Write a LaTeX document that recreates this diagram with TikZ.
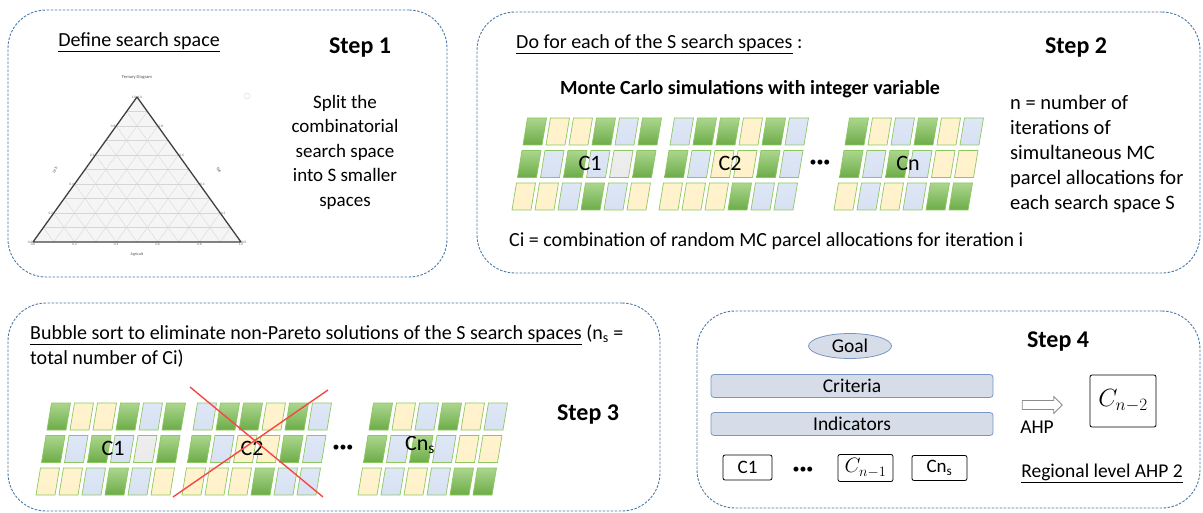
\documentclass[tikz,border=0pt]{standalone}
\usepackage{fontspec}
\setmainfont{Carlito}
\definecolor{frameblue}{RGB}{75,120,168}
\definecolor{crossred}{RGB}{248,70,70}
\definecolor{ahpfill}{RGB}{214,221,232}
\definecolor{ahpline}{RGB}{120,150,195}
\definecolor{parcelline}{RGB}{140,200,95}
\definecolor{tG}{RGB}{172,214,142}
\definecolor{bG}{RGB}{108,172,72}
\definecolor{tY}{RGB}{255,243,206}
\definecolor{bY}{RGB}{255,241,202}
\definecolor{tB}{RGB}{222,231,246}
\definecolor{bB}{RGB}{216,225,242}
\definecolor{tW}{RGB}{238,238,238}
\definecolor{bW}{RGB}{234,234,234}
\usepackage{tikz}
\usetikzlibrary{shapes,arrows,positioning,calc,fit,backgrounds}

\tikzset{
  stepbox/.style={draw=frameblue, dash pattern=on 2.5pt off 1.5pt, line width=0.9pt, rounded corners=38pt},
  body/.style={font=\fontsize{20}{25}\selectfont, inner sep=0pt},
  steptitle/.style={font=\fontsize{24}{28}\selectfont\bfseries, inner sep=0pt},
  clabel/.style={font=\fontsize{22}{24}\selectfont, inner sep=0pt},
  ahpbar/.style={draw=ahpline, fill=ahpfill, rounded corners=3pt, line width=0.8pt,
    minimum width=282, minimum height=23, inner sep=0pt, font=\fontsize{19.5}{21}\selectfont},
  cbox/.style={draw, line width=0.8pt, rounded corners=2pt, inner sep=0pt, font=\fontsize{19}{21}\selectfont},
  parcel/.style={draw=parcelline, line width=0.7pt},
  tgrid/.style={draw=black!16, line width=0.35pt},
  tick/.style={font=\fontsize{3.5}{4}\selectfont, text=black!60, inner sep=0.6pt},
  dots/.style={font=\fontsize{14}{16}\selectfont, inner sep=0pt}
}

% one row of parcels: x of first lower corner, y of top, colours
\newcommand{\parcelrow}[3]{%
  \foreach \c [count=\i from 0] in {#3}
    \path[parcel, top color=t\c, bottom color=b\c]
      (#1+\i*23, #2+27) -- ++(4.5,-27) -- ++(19,0) -- ++(-4.5,27) -- cycle;
}
\newcommand{\parcelgroup}[5]{%
  \parcelrow{#1}{#2}{#3}
  \parcelrow{#1-5.5}{#2+32.5}{#4}
  \parcelrow{#1-11}{#2+65}{#5}
}

\begin{document}
\begin{tikzpicture}[x=1pt, y=-1pt]
    \useasboundingbox (0,0) rectangle (1203,513);

    % Frames
    \node[stepbox, minimum width=439, minimum height=267] (frame1) at (227.5,143.5) {};
    \node[stepbox, minimum width=723, minimum height=261] (frame2) at (838.5,142.5) {};
    \node[stepbox, minimum width=652, minimum height=208] (frame3) at (334,407) {};
    \node[stepbox, minimum width=503, minimum height=197] (frame4) at (948.5,409.5) {};

    % Step 1
    \node[body] (defspace) at (139,42) {\underline{Define search space}};
    \node[steptitle] (step1) at (360,48) {Step 1};
    \node[body, font=\fontsize{19}{24.5}\selectfont, align=center] (splittxt) at (345,152) {Split the\\combinatorial\\search space\\into S smaller\\spaces};

    % Ternary diagram
    \coordinate (tA) at (33,242);
    \coordinate (tB) at (241,242);
    \coordinate (tT) at (137,97);
    \fill[black!4] (tA) -- (tB) -- (tT) -- cycle;
    \foreach \k in {1,...,9} {
        \draw[tgrid] ($(tA)!\k/10!(tT)$) -- ($(tB)!\k/10!(tT)$);
        \draw[tgrid] ($(tA)!\k/10!(tB)$) -- ($(tT)!\k/10!(tB)$);
        \draw[tgrid] ($(tB)!\k/10!(tA)$) -- ($(tT)!\k/10!(tA)$);
    }
    \draw[line width=1.3pt, black!75, line join=round] (tA) -- (tB) -- (tT) -- cycle;
    \foreach \v [count=\k from 0] in {0.0,0.2,0.4,0.6,0.8,1.0} {
        \node[tick, below] at ($(tA)!\k/5!(tB)$) {\v};
        \node[tick, left] at ($(tA)!\k/5!(tT)$) {\v};
        \node[tick, right] at ($(tB)!\k/5!(tT)$) {\v};
    }
    \node[font=\fontsize{4.5}{5}\selectfont, text=black!70] (ttitle) at (137,77) {Ternary Diagram};
    \node[font=\fontsize{4}{5}\selectfont, text=black!70, rotate=60] (tleft) at (55,170) {Urb};
    \node[font=\fontsize{4}{5}\selectfont, text=black!70, rotate=-60] (tright) at (219,170) {Nat};
    \node[font=\fontsize{4}{5}\selectfont, text=black!70] (tbottom) at (137,254) {Agricult};
    \draw[black!12, line width=0.6pt] (247,96) circle (3);

    % Step 2
    \node[body, anchor=west] (dofor) at (516,44) {\underline{Do for each of the S search spaces} :};
    \node[steptitle] (step2) at (1076,48) {Step 2};
    \node[body, font=\fontsize{20}{25}\selectfont\bfseries] (mctitle) at (750,89) {Monte Carlo simulations with integer variable};
    \parcelgroup{523}{118}{G,Y,Y,G,B,G}{G,B,G,B,W,G}{Y,Y,B,G,B,Y}
    \parcelgroup{670}{118}{B,G,G,Y,G,B}{G,B,Y,Y,G,B}{Y,Y,Y,G,B,B}
    \parcelgroup{845}{118}{G,Y,B,G,Y,B}{G,B,G,B,Y,Y}{Y,B,Y,B,G,G}
    \node[clabel] (c1top) at (590,163) {C1};
    \node[clabel] (c2top) at (730,163) {C2};
    \node[clabel] (cntop) at (908,163) {Cn};
    \node[dots] (dotstop) at (820,163) {\textbullet\textbullet\textbullet};
    \node[body, font=\fontsize{20.5}{25}\selectfont, anchor=west, align=left] (ntxt) at (1010,154) {n = number of\\iterations of\\simultaneous MC\\parcel allocations for\\each search space S};
    \node[body, anchor=west] (citxt) at (509,241) {Ci = combination of random MC parcel allocations for iteration i};

    % Step 3
    \node[body, anchor=north west, align=left] (bubble) at (30,325) {\underline{Bubble sort to eliminate non-Pareto solutions of the S search spaces} (n\textsubscript{s} =\\total number of Ci)};
    \node[steptitle] (step3) at (588,415) {Step 3};
    \parcelgroup{47}{403}{G,Y,Y,G,B,G}{G,B,G,B,W,G}{Y,Y,B,G,B,Y}
    \parcelgroup{193}{403}{B,G,G,Y,G,B}{G,B,Y,Y,G,B}{Y,Y,Y,G,B,B}
    \parcelgroup{369}{403}{G,Y,B,G,Y,B}{G,B,G,B,Y,Y}{Y,B,Y,B,G,G}
    \node[clabel] (c1mid) at (113,448) {C1};
    \node[clabel] (c2mid) at (252,448) {C2};
    \node[clabel] (cnmid) at (420,445) {Cn\textsubscript{s}};
    \node[dots] (dotsmid) at (343,448) {\textbullet\textbullet\textbullet};
    % discarded combination
    \coordinate (xa) at (190,387);
    \coordinate (xb) at (323,497);
    \coordinate (xc) at (328,390);
    \coordinate (xd) at (173,497);
    \draw[crossred, line width=1.4pt] (xa) -- (xb);
    \draw[crossred, line width=1.4pt] (xc) -- (xd);

    % Step 4
    \node[steptitle] (step4) at (1058,342) {Step 4};
    \node[ellipse, draw=ahpline, fill=ahpfill, line width=0.8pt, minimum width=83, minimum height=25, inner sep=0pt, font=\fontsize{19.5}{21}\selectfont] (goal) at (850,346) {Goal};
    \node[ahpbar] (criteria) at (852,386) {Criteria};
    \node[ahpbar] (indicators) at (852,424) {Indicators};
    \node[cbox, minimum width=49, minimum height=25] (cone) at (747.5,467.5) {C1};
    \node[dots] (dotsbot) at (803,470) {\textbullet\textbullet\textbullet};
    \node[cbox, minimum width=55, minimum height=27, font=\fontsize{22}{24}\selectfont] (cnm1) at (865.5,468) {$C_{n-1}$};
    \node[cbox, minimum width=55, minimum height=25] (cns) at (939.5,468) {Cn\textsubscript{s}};
    \node[body, font=\fontsize{19.5}{21}\selectfont] (regional) at (1102,473) {\underline{Regional level AHP 2}};
    \node[single arrow, draw=black!45, fill=white, line width=0.8pt, minimum height=40, minimum width=17,
        single arrow head extend=4pt, inner sep=4pt] (ahparrow) at (1040,405) {};
    \node[body, font=\fontsize{19.5}{21}\selectfont] (ahp) at (1037,427) {AHP};
    \node[cbox, minimum width=66, minimum height=52, font=\fontsize{25}{28}\selectfont] (cnm2) at (1123,401) {$C_{n-2}$};
\end{tikzpicture}
\end{document}
